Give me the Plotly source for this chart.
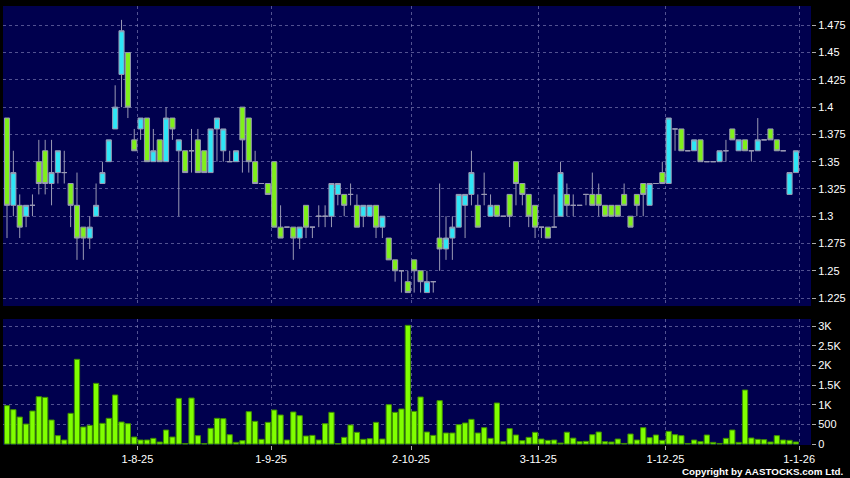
import plotly.graph_objects as go

# ---- data ----
day_index = list(range(125))

opens = [1.39, 1.31, 1.31, 1.30, 1.31, 1.35, 1.36, 1.33, 1.34, 1.34,
         1.33, 1.31, 1.29, 1.28, 1.30, 1.33, 1.35, 1.38, 1.43, 1.45,
         1.37, 1.38, 1.39, 1.35, 1.37, 1.35, 1.39, 1.36, 1.36, 1.36,
         1.37, 1.36, 1.34, 1.38, 1.36, 1.35, 1.35, 1.40, 1.39, 1.35,
         1.33, 1.33, 1.35, 1.29, 1.29, 1.29, 1.28, 1.31, 1.29, 1.30,
         1.30, 1.30, 1.32, 1.32, 1.32, 1.31, 1.30, 1.30, 1.31, 1.29,
         1.28, 1.26, 1.25, 1.24, 1.26, 1.25, 1.23, 1.24, 1.28, 1.27,
         1.28, 1.29, 1.31, 1.32, 1.31, 1.32, 1.30, 1.31, 1.30, 1.32,
         1.35, 1.33, 1.32, 1.31, 1.29, 1.29, 1.29, 1.30, 1.32, 1.31,
         1.31, 1.32, 1.32, 1.32, 1.31, 1.31, 1.31, 1.32, 1.30, 1.32,
         1.33, 1.31, 1.33, 1.34, 1.33, 1.38, 1.38, 1.36, 1.36, 1.37,
         1.35, 1.35, 1.35, 1.36, 1.38, 1.36, 1.37, 1.36, 1.36, 1.37,
         1.38, 1.37, 1.36, 1.32, 1.34]
highs = [1.39, 1.36, 1.32, 1.31, 1.32, 1.37, 1.37, 1.37, 1.36, 1.36,
         1.33, 1.34, 1.29, 1.30, 1.33, 1.35, 1.37, 1.42, 1.48, 1.45,
         1.38, 1.39, 1.39, 1.38, 1.37, 1.40, 1.39, 1.37, 1.36, 1.38,
         1.38, 1.36, 1.38, 1.39, 1.38, 1.36, 1.36, 1.40, 1.39, 1.36,
         1.33, 1.33, 1.35, 1.31, 1.29, 1.29, 1.29, 1.31, 1.29, 1.31,
         1.31, 1.33, 1.33, 1.32, 1.33, 1.32, 1.31, 1.31, 1.31, 1.30,
         1.28, 1.26, 1.25, 1.25, 1.26, 1.25, 1.25, 1.24, 1.33, 1.30,
         1.30, 1.32, 1.32, 1.36, 1.32, 1.34, 1.32, 1.31, 1.30, 1.32,
         1.35, 1.33, 1.32, 1.31, 1.29, 1.29, 1.32, 1.35, 1.33, 1.32,
         1.31, 1.32, 1.34, 1.33, 1.31, 1.31, 1.31, 1.33, 1.30, 1.32,
         1.33, 1.33, 1.33, 1.35, 1.39, 1.38, 1.38, 1.36, 1.37, 1.37,
         1.35, 1.35, 1.36, 1.37, 1.38, 1.37, 1.37, 1.36, 1.39, 1.37,
         1.38, 1.37, 1.36, 1.34, 1.36]
lows = [1.28, 1.30, 1.28, 1.29, 1.30, 1.32, 1.32, 1.31, 1.33, 1.33,
        1.29, 1.26, 1.26, 1.27, 1.30, 1.33, 1.35, 1.38, 1.40, 1.39,
        1.36, 1.37, 1.35, 1.35, 1.35, 1.35, 1.37, 1.30, 1.34, 1.34,
        1.34, 1.34, 1.34, 1.35, 1.35, 1.35, 1.35, 1.34, 1.34, 1.33,
        1.33, 1.32, 1.29, 1.28, 1.29, 1.26, 1.27, 1.28, 1.28, 1.29,
        1.29, 1.29, 1.31, 1.30, 1.31, 1.29, 1.29, 1.30, 1.28, 1.28,
        1.26, 1.24, 1.23, 1.23, 1.23, 1.23, 1.23, 1.23, 1.25, 1.26,
        1.26, 1.29, 1.28, 1.31, 1.29, 1.31, 1.30, 1.30, 1.30, 1.29,
        1.31, 1.31, 1.29, 1.28, 1.28, 1.28, 1.29, 1.30, 1.30, 1.30,
        1.31, 1.31, 1.31, 1.30, 1.30, 1.30, 1.30, 1.31, 1.29, 1.30,
        1.30, 1.31, 1.33, 1.33, 1.33, 1.36, 1.36, 1.36, 1.36, 1.35,
        1.35, 1.35, 1.35, 1.35, 1.37, 1.36, 1.36, 1.35, 1.36, 1.37,
        1.37, 1.36, 1.36, 1.32, 1.34]
closes = [1.31, 1.34, 1.29, 1.31, 1.31, 1.33, 1.33, 1.34, 1.36, 1.34,
          1.31, 1.28, 1.28, 1.29, 1.31, 1.34, 1.37, 1.40, 1.47, 1.40,
          1.36, 1.39, 1.35, 1.36, 1.35, 1.39, 1.38, 1.37, 1.34, 1.36,
          1.34, 1.34, 1.38, 1.39, 1.38, 1.35, 1.36, 1.37, 1.35, 1.33,
          1.33, 1.32, 1.29, 1.28, 1.29, 1.28, 1.29, 1.29, 1.29, 1.30,
          1.30, 1.33, 1.33, 1.31, 1.32, 1.29, 1.31, 1.31, 1.29, 1.30,
          1.26, 1.25, 1.25, 1.23, 1.25, 1.24, 1.24, 1.24, 1.27, 1.28,
          1.29, 1.32, 1.32, 1.34, 1.29, 1.32, 1.31, 1.30, 1.30, 1.30,
          1.33, 1.32, 1.30, 1.29, 1.29, 1.28, 1.29, 1.34, 1.31, 1.31,
          1.31, 1.32, 1.31, 1.31, 1.30, 1.30, 1.30, 1.31, 1.29, 1.31,
          1.32, 1.33, 1.33, 1.33, 1.39, 1.38, 1.36, 1.36, 1.37, 1.35,
          1.35, 1.35, 1.36, 1.36, 1.37, 1.37, 1.36, 1.36, 1.37, 1.37,
          1.37, 1.36, 1.36, 1.34, 1.36]
volumes = [975, 873, 686, 508, 839, 1203, 1186, 610, 212, 102,
           780, 2153, 432, 475, 1542, 525, 653, 1246, 559, 517,
           178, 102, 102, 144, 51, 356, 178, 1161, 10, 1169,
           212, 10, 398, 653, 644, 237, 42, 85, 822, 576,
           119, 551, 864, 737, 102, 814, 720, 203, 220, 102,
           517, 805, 10, 169, 483, 297, 119, 136, 551, 127,
           1000, 805, 890, 3017, 830, 1195, 305, 220, 1102, 280,
           280, 492, 534, 627, 280, 415, 144, 1042, 59, 390,
           229, 85, 169, 297, 127, 93, 102, 25, 300, 150,
           60, 68, 237, 305, 60, 51, 127, 15, 254, 102,
           415, 161, 229, 93, 322, 237, 212, 15, 102, 60,
           229, 42, 15, 144, 356, 42, 1373, 153, 119, 110,
           51, 212, 102, 93, 51]

month_tick_pos = [20.5, 41.5, 63.5, 83.5, 103.5, 124.5]
month_tick_text = ["1-8-25", "1-9-25", "2-10-25", "3-11-25", "1-12-25", "1-1-26"]

price_ticks = [1.225, 1.25, 1.275, 1.3, 1.325, 1.35, 1.375, 1.4, 1.425, 1.45, 1.475]
price_tick_text = ["1.225", "1.25", "1.275", "1.3", "1.325", "1.35", "1.375", "1.4", "1.425", "1.45", "1.475"]
vol_ticks = [0, 500, 1000, 1500, 2000, 2500, 3000]
vol_tick_text = ["0", "500", "1K", "1.5K", "2K", "2.5K", "3K"]

# ---- styles ----
BG = "#000000"
PANEL = "#00004E"
GRID = "rgba(150,150,200,0.55)"
UP = "#2EE6F6"
DOWN = "#7FF01A"
VOL = "#80FF00"
WICK = "#9A9AB4"
BODY_EDGE = "#7A8A9A"
FONT = "Liberation Sans, Arial, sans-serif"

fig = go.Figure()
fig.add_trace(go.Candlestick(
    x=day_index, open=opens, high=highs, low=lows, close=closes,
    xaxis="x", yaxis="y",
    increasing=dict(fillcolor=UP, line=dict(color=WICK, width=1)),
    decreasing=dict(fillcolor=DOWN, line=dict(color=WICK, width=1)),
    whiskerwidth=0, showlegend=False, hoverinfo="skip",
))
fig.add_trace(go.Bar(
    x=day_index, y=volumes, xaxis="x2", yaxis="y2",
    marker=dict(color=VOL, line=dict(color="#3F8F00", width=1)),
    showlegend=False, hoverinfo="skip",
))

xrange = [-0.63, 126.37]
common_x = dict(range=xrange, tickvals=month_tick_pos, showgrid=True, gridcolor=GRID,
                griddash="3px,3px", gridwidth=1, zeroline=False, showline=False)

fig.update_layout(
    width=850, height=478,
    margin=dict(l=3, r=39, t=6, b=33),
    paper_bgcolor=BG, plot_bgcolor=PANEL,
    boxgap=0.2, boxgroupgap=0, bargap=0.18,
    font=dict(family=FONT, color="#FFFFFF", size=11),
    xaxis=dict(domain=[0, 1], anchor="y", showticklabels=False, ticks="",
               rangeslider=dict(visible=False), matches="x2", **common_x),
    xaxis2=dict(domain=[0, 1], anchor="y2", ticktext=month_tick_text,
                ticks="outside", ticklen=4, tickcolor="#AAAAAA",
                tickfont=dict(size=11, color="#FFFFFF"), **common_x),
    yaxis=dict(domain=[0.3166, 1], anchor="x", side="right", range=[1.2177, 1.4927],
               tickvals=price_ticks, ticktext=price_tick_text, ticks="outside",
               ticklen=4, tickcolor="#AAAAAA", tickfont=dict(size=11, color="#FFFFFF"),
               showgrid=True, gridcolor=GRID, griddash="3px,3px", zeroline=False),
    yaxis2=dict(domain=[0, 0.287], anchor="x2", side="right", range=[-25, 3178],
                tickvals=vol_ticks, ticktext=vol_tick_text, ticks="outside",
                ticklen=4, tickcolor="#AAAAAA", tickfont=dict(size=11, color="#FFFFFF"),
                showgrid=True, gridcolor=GRID, griddash="3px,3px", zeroline=False),
    annotations=[dict(text="<b>Copyright by AASTOCKS.com Ltd.</b>", xref="paper", yref="paper",
                      x=1.042, y=-0.0615, xanchor="right", yanchor="middle",
                      showarrow=False, font=dict(size=9.8, color="#FFFFFF", family=FONT))],
)

fig.write_html("out.html", config={"displayModeBar": False},
               post_script="document.body.style.margin='0';document.body.style.background='#000';")
